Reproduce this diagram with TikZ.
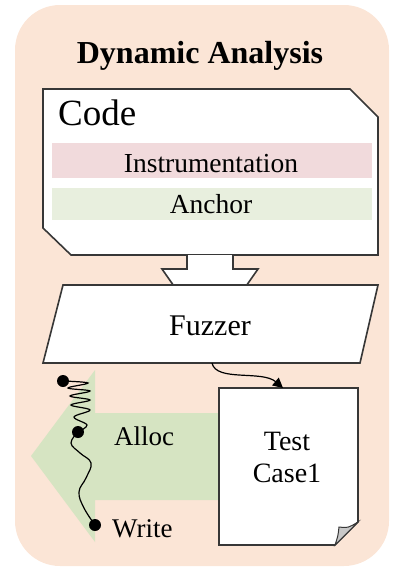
\documentclass[tikz,border=0pt]{standalone}
\usepackage{fontspec}
\setmainfont{Liberation Serif}
\usetikzlibrary{arrows.meta}
\definecolor{panel}{RGB}{251,229,214}
\definecolor{edge}{RGB}{55,55,55}
\definecolor{instr}{RGB}{241,218,220}
\definecolor{anch}{RGB}{232,239,222}
\definecolor{flow}{RGB}{214,228,194}
\definecolor{fold}{RGB}{200,200,200}
\tikzset{
  shapeline/.style={draw=edge,line width=1.6pt,line join=miter,fill=white},
  label/.style={inner sep=0pt,anchor=base,text=black},
  dot/.style={circle,fill=black,inner sep=0pt,minimum size=12pt},
  trace/.style={draw=black,line width=1.2pt},
}
\newcommand{\fs}[1]{\fontsize{#1}{#1}\selectfont}
\begin{document}
\begin{tikzpicture}[x=1pt,y=-1pt]
\useasboundingbox (0,0) rectangle (403,570);
% outer panel
\fill[panel,rounded corners=45pt] (15,5) rectangle (389,566);
\node[label] (title) at (200,63) {\fs{32}\bfseries Dynamic Analysis};

% code box with snipped corners
\draw[shapeline] (43,89) -- (350,89) -- (378,117) -- (378,255) -- (71,255) -- (43,228) -- cycle;
\node[label,anchor=base west] (code) at (58,125) {\fs{37}Code};
\fill[instr] (52,143) rectangle (372,178);
\node[label] (instr) at (211,172) {\fs{27.5}Instrumentation};
\fill[anch] (52,188) rectangle (372,220);
\node[label] (anchor) at (211,213) {\fs{27.5}Anchor};

% hollow block arrow into the fuzzer
\draw[shapeline] (187,255) -- (187,269) -- (162,269) -- (183,299) -- (237,299) -- (258,269) -- (233,269) -- (233,255);

% fuzzer parallelogram
\draw[shapeline] (63,285) -- (378,285) -- (360,363) -- (43,363) -- cycle;
\node[label] (fuzzer) at (210,335) {\fs{30}Fuzzer};

% green feedback arrow
\fill[flow] (95,370) -- (95,413) -- (225,413) -- (225,500) -- (95,500) -- (95,542) -- (31,456) -- cycle;

% test case document with folded corner
\draw[shapeline] (219,388) -- (358,388) -- (358,522) -- (335,545) -- (219,545) -- cycle;
\draw[draw=edge,line width=1pt,fill=fold] (358,522) -- (335,545) .. controls (338,536) .. (339,527) .. controls (348,528) .. (358,522) -- cycle;
\node[label] (test) at (287,450) {\fs{28}Test};
\node[label] (case) at (287,482) {\fs{28}Case1};

% generated test case
\coordinate (fz-out) at (212,363);
\coordinate (tc-in) at (283,388);
\draw[trace,-{Triangle[length=10pt,width=10pt]}] (fz-out) .. controls (216,382) and (262,370) .. (tc-in);

% execution trace
\node[dot] (p1) at (63,381) {};
\node[dot] (p2) at (78,432) {};
\node[dot] (p3) at (95,525) {};
\draw[trace] plot[smooth,tension=0.6] coordinates {(63,381) (88,383) (68,388) (90,391) (70,396) (90,400) (71,405) (90,410) (74,417) (87,425) (78,432)};
\draw[trace] plot[smooth,tension=0.7] coordinates {(78,432) (71,443) (80,453) (91,463) (86,478) (79,492) (84,508) (95,525)};
\node[label,anchor=base west] (alloc) at (114,445) {\fs{27}Alloc};
\node[label,anchor=base west] (write) at (112,537) {\fs{27}Write};
\end{tikzpicture}
\end{document}
